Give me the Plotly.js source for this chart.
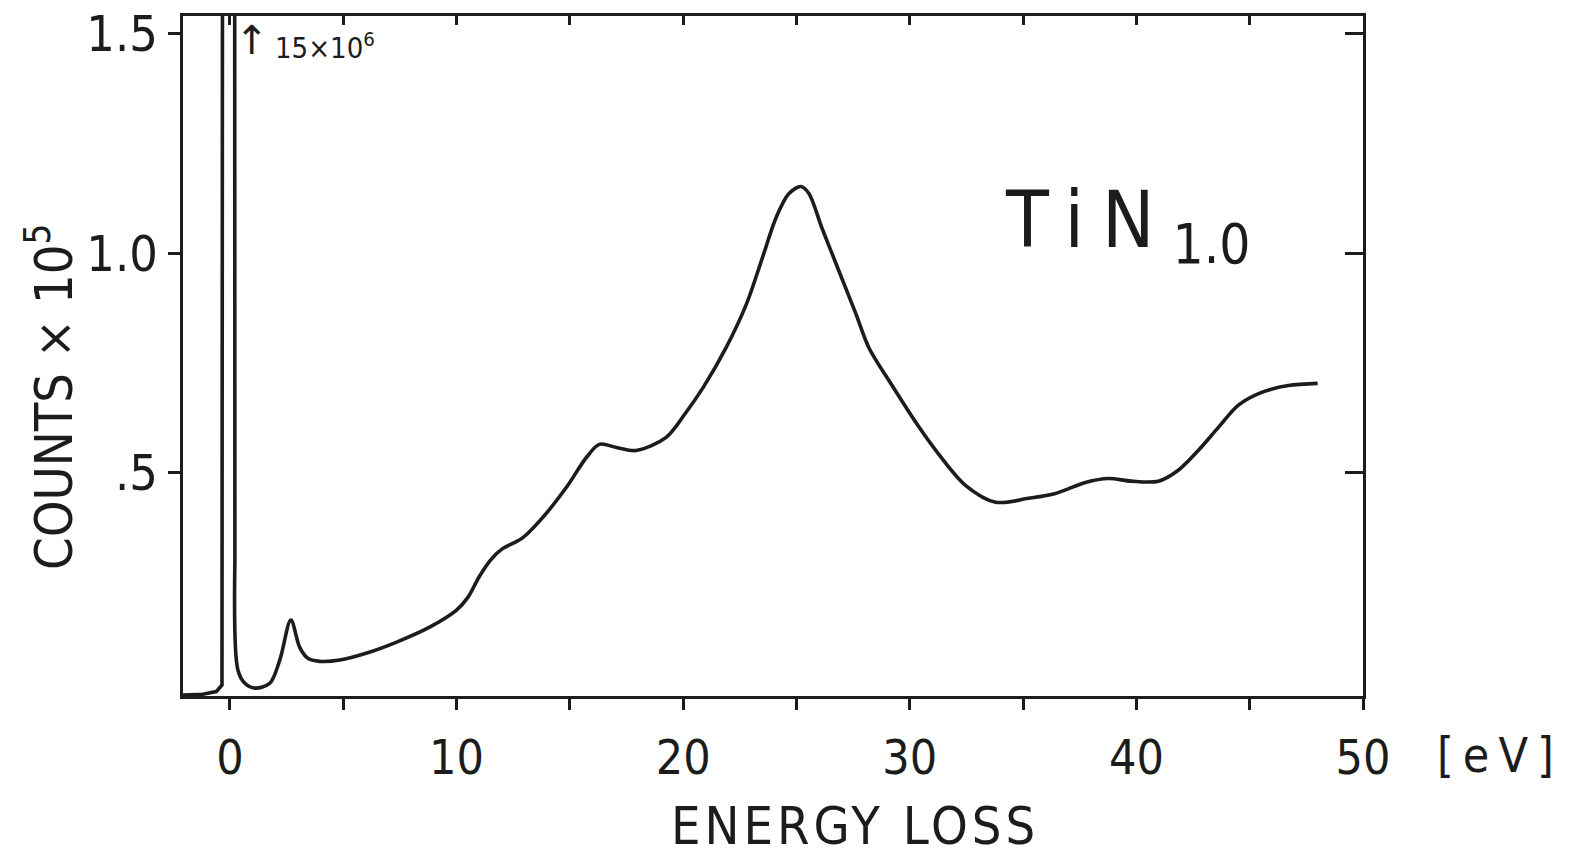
<!DOCTYPE html>
<html>
<head>
<meta charset="utf-8">
<script src="https://cdn.plot.ly/plotly-3.0.1.min.js"></script>
<style>
  html, body { margin: 0; padding: 0; background: #fff; }
  #chart { width: 1569px; height: 857px; }
</style>
</head>
<body>
<div id="chart"></div>
<script>
// Energy loss (eV) and counts (x 10^5)
const elasticEnergy = [-2.07, -1.2, -0.6, -0.35, -0.15, 0.12, 0.22];
const elasticCounts = [-0.008, -0.006, 0.0, 0.015, 15, 15, 0.3];

const lossEnergy = [0.22, 0.35, 0.66, 1.1, 1.76, 2.2, 2.69, 3.08, 3.44, 3.96, 4.85, 6.04, 7.36, 8.81,
  10.0, 10.5, 11.0, 11.5, 12.0, 12.9, 13.8, 14.85, 15.73, 16.3, 17.05, 17.93, 19.25, 20.1, 20.9,
  21.9, 22.8, 23.5, 24.1, 24.67, 25.2, 25.55, 26.12, 26.87, 27.62, 28.19, 29.2, 30.4, 31.3,
  32.47, 33.79, 35.24, 36.43, 37.75, 38.77, 39.78, 40.97, 41.85, 42.73, 43.61, 44.49, 45.5, 46.7, 48.0];
const lossCounts = [0.3, 0.05, 0.019, 0.008, 0.019, 0.072, 0.163, 0.101, 0.076, 0.069, 0.072, 0.088, 0.113, 0.147,
  0.186, 0.215, 0.262, 0.300, 0.325, 0.350, 0.397, 0.466, 0.534, 0.564, 0.557, 0.550, 0.580, 0.635, 0.695,
  0.785, 0.885, 0.990, 1.081, 1.136, 1.152, 1.136, 1.058, 0.960, 0.862, 0.785, 0.700, 0.604, 0.540,
  0.470, 0.432, 0.441, 0.452, 0.477, 0.486, 0.480, 0.480, 0.505, 0.550, 0.602, 0.653, 0.682, 0.698, 0.703];

const xTickVals = [0, 10, 20, 30, 40, 50];
const xTickText = ['0', '10', '20', '30', '40', '50'];
const xMinorVals = [5, 15, 25, 35, 45];
const yTickVals = [0.5, 1.0, 1.5];
const yTickText = ['.5', '1.0', '1.5'];

const FONT = '"Liberation Sans Narrow", "DejaVu Sans Condensed", "Arial Narrow", sans-serif';
const INK = '#1c1c1c';

const traces = [
  {x: elasticEnergy, y: elasticCounts, mode: 'lines', type: 'scatter',
   line: {color: INK, width: 3.6}, hoverinfo: 'skip', showlegend: false},
  {x: lossEnergy, y: lossCounts, mode: 'lines', type: 'scatter',
   line: {color: INK, width: 3.6, shape: 'spline', smoothing: 0.9}, hoverinfo: 'skip', showlegend: false},
  {x: lossEnergy, y: lossCounts, xaxis: 'x2', yaxis: 'y2', mode: 'lines', type: 'scatter',
   line: {color: 'rgba(0,0,0,0)', width: 0}, hoverinfo: 'skip', showlegend: false}
];

const axisCommon = {showgrid: false, zeroline: false, showline: true, linewidth: 3.2, linecolor: INK,
  tickcolor: INK, tickwidth: 3};

const layout = {
  width: 1569, height: 857,
  margin: {l: 183, r: 206, t: 16, b: 161},
  paper_bgcolor: '#fff', plot_bgcolor: '#fff',
  font: {family: FONT, color: INK},
  showlegend: false,
  xaxis: Object.assign({}, axisCommon, {
    range: [-2.07, 50], tickmode: 'array', tickvals: xTickVals, ticktext: xTickText,
    ticks: 'outside', ticklen: 11, ticklabelstandoff: 6,
    minor: {tickmode: 'array', tickvals: xMinorVals, ticks: 'outside', ticklen: 11, tickwidth: 3, tickcolor: INK, showgrid: false},
    tickfont: {family: FONT, size: 48, color: INK}
  }),
  xaxis2: Object.assign({}, axisCommon, {
    overlaying: 'x', side: 'top', range: [-2.07, 50], tickmode: 'array', tickvals: xTickVals,
    ticks: 'inside', ticklen: 9, showticklabels: false,
    minor: {tickmode: 'array', tickvals: xMinorVals, ticks: 'inside', ticklen: 9, tickwidth: 3, tickcolor: INK, showgrid: false}
  }),
  yaxis: Object.assign({}, axisCommon, {
    range: [-0.01, 1.541], tickmode: 'array', tickvals: yTickVals, ticktext: yTickText,
    ticks: 'outside', ticklen: 12, ticklabelstandoff: 0,
    tickfont: {family: FONT, size: 50, color: INK}
  }),
  yaxis2: Object.assign({}, axisCommon, {
    overlaying: 'y', side: 'right', range: [-0.01, 1.541], tickmode: 'array', tickvals: yTickVals,
    ticks: 'inside', ticklen: 18, showticklabels: false
  }),
  annotations: [
    {text: '<span style="letter-spacing:4px">ENERGY LOSS</span>', xref: 'paper', yref: 'paper', x: 0.5695, y: (696 - 826) / 680,
     xanchor: 'center', yanchor: 'middle', showarrow: false,
     font: {family: FONT, size: 52, color: INK}},
    {text: 'COUNTS × 10<sup>5</sup>', xref: 'paper', yref: 'paper', x: (50 - 183) / 1180, y: (696 - 397) / 680,
     xanchor: 'center', yanchor: 'middle', textangle: -90, showarrow: false,
     font: {family: FONT, size: 52, color: INK}},
    {text: '<span style="letter-spacing:9px">[eV]</span>', xref: 'paper', yref: 'paper', x: (1500 - 183) / 1180, y: (696 - 755) / 680,
     xanchor: 'center', yanchor: 'middle', showarrow: false,
     font: {family: FONT, size: 48, color: INK}},
    {text: '↑', xref: 'paper', yref: 'paper', x: (252 - 183) / 1180, y: (696 - 40) / 680,
     xanchor: 'center', yanchor: 'middle', showarrow: false,
     font: {family: 'DejaVu Sans', size: 40, color: INK}},
    {text: '15×10<sup>6</sup>', xref: 'paper', yref: 'paper', x: (273 - 183) / 1180, y: (696 - 46) / 680,
     xanchor: 'left', yanchor: 'middle', showarrow: false,
     font: {family: FONT, size: 29, color: INK}},
    {text: '<span style="letter-spacing:18px">TiN</span><sub>1.0</sub>', xref: 'paper', yref: 'paper',
     x: (1003 - 183) / 1180, y: (696 - 225) / 680,
     xanchor: 'left', yanchor: 'middle', showarrow: false,
     font: {family: FONT, size: 78, color: INK}}
  ]
};

Plotly.newPlot('chart', traces, layout, {displayModeBar: false, staticPlot: true});
</script>
</body>
</html>
